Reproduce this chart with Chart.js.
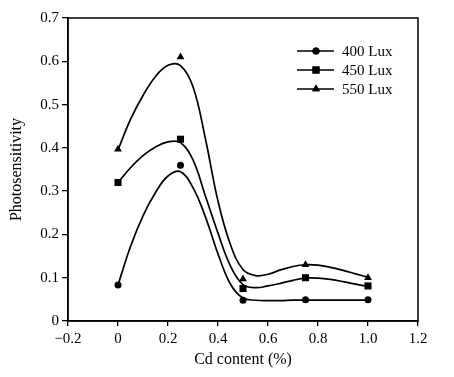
<!DOCTYPE html>
<html>
<head>
<meta charset="utf-8">
<script src="https://cdn.jsdelivr.net/npm/chart.js@4"></script>
<style>
  body { margin: 0; background: #fff; }
  canvas { display: block; }
</style>
</head>
<body>
<canvas id="chart" width="454" height="377"></canvas>
<script>
// Measured points
const cdContent = [0, 0.25, 0.5, 0.75, 1.0];
const ps400 = [0.083, 0.36, 0.048, 0.049, 0.049];
const ps450 = [0.32, 0.42, 0.075, 0.10, 0.081];
const ps550 = [0.397, 0.61, 0.097, 0.13, 0.10];

// Smoothed curves
const curveX = [0, 0.05, 0.1, 0.15, 0.2, 0.25, 0.3, 0.35, 0.4, 0.45, 0.5,
    0.55, 0.6, 0.65, 0.7, 0.75, 0.8, 0.85, 0.9, 0.95, 1.0];
const fit400 = [0.083, 0.172, 0.243, 0.297, 0.335, 0.345, 0.308, 0.24, 0.155, 0.085, 0.053,
    0.048, 0.047, 0.047, 0.048, 0.048, 0.048, 0.048, 0.048, 0.048, 0.048];
const fit450 = [0.32, 0.354, 0.382, 0.402, 0.414, 0.412, 0.372, 0.288, 0.203, 0.127, 0.084,
    0.077, 0.081, 0.087, 0.094, 0.099, 0.099, 0.096, 0.091, 0.085, 0.080];
const fit550 = [0.395, 0.466, 0.521, 0.565, 0.591, 0.590, 0.541, 0.42, 0.277, 0.176, 0.119,
    0.105, 0.108, 0.118, 0.126, 0.130, 0.129, 0.124, 0.117, 0.109, 0.101];

const seriesLabels = ["400 Lux", "450 Lux", "550 Lux"];
const xTickLabels = ["\u22120.2", "0", "0.2", "0.4", "0.6", "0.8", "1.0", "1.2"];
const yTickLabels = ["0", "0.1", "0.2", "0.3", "0.4", "0.5", "0.6", "0.7"];

const FONT = "'Liberation Serif', 'Times New Roman', serif";
const styles = [
    { pointStyle: "circle", radius: 3.5 },
    { pointStyle: "rect", radius: 5 },
    { pointStyle: "triangle", radius: 4.5 },
];

const toXY = (xs, ys) => xs.map((x, i) => ({ x: x, y: ys[i] }));

const curves = [fit400, fit450, fit550].map((ys) => ({
    data: toXY(curveX, ys),
    borderColor: "#000",
    borderWidth: 1.7,
    pointRadius: 0,
    tension: 0.4,
    fill: false,
}));

const markers = [ps400, ps450, ps550].map((ys, i) => ({
    label: seriesLabels[i],
    data: toXY(cdContent, ys),
    showLine: false,
    pointStyle: styles[i].pointStyle,
    pointRadius: styles[i].radius,
    pointBackgroundColor: "#000",
    pointBorderColor: "#000",
    pointBorderWidth: 0,
}));

// box around the plot and the in-plot legend
const framePlugin = {
    id: "frame",
    afterDraw(chart) {
        const ctx = chart.ctx;
        const a = chart.chartArea;
        ctx.save();
        ctx.strokeStyle = "#000";
        ctx.lineWidth = 1.5;
        ctx.strokeRect(a.left, a.top, a.right - a.left, a.bottom - a.top);

        ctx.font = "15px " + FONT;
        ctx.textBaseline = "middle";
        ctx.fillStyle = "#000";
        seriesLabels.forEach((label, i) => {
            const y = 51 + i * 19;
            ctx.lineWidth = 1.5;
            ctx.beginPath();
            ctx.moveTo(297, y);
            ctx.lineTo(334, y);
            ctx.stroke();
            Chart.helpers.drawPoint(ctx, {
                pointStyle: styles[i].pointStyle,
                radius: styles[i].radius,
                borderWidth: 0,
            }, 316, y);
            ctx.fill();
            ctx.fillText(label, 342, y + 1);
        });
        ctx.restore();
    },
};

const ctx = document.getElementById("chart").getContext("2d");
new Chart(ctx, {
    type: "line",
    data: { datasets: [...curves, ...markers] },
    options: {
        responsive: false,
        animation: false,
        layout: { padding: { top: 18, right: 36, left: 0, bottom: 0 } },
        plugins: {
            legend: { display: false },
            tooltip: { enabled: false },
        },
        scales: {
            x: {
                type: "linear",
                min: -0.2,
                max: 1.2,
                afterFit: (s) => { s.height = 56; },
                ticks: {
                    stepSize: 0.2,
                    color: "#000",
                    padding: 4,
                    maxRotation: 0,
                    font: { family: FONT, size: 15 },
                    callback: (v, i) => xTickLabels[i],
                },
                grid: { drawOnChartArea: false, color: "#000", tickLength: 5, lineWidth: 1.3 },
                border: { color: "#000", width: 1.5 },
                title: {
                    display: true,
                    text: "Cd content (%)",
                    color: "#000",
                    padding: { top: 8, bottom: 8 },
                    font: { family: FONT, size: 16 },
                },
            },
            y: {
                min: 0,
                max: 0.7,
                afterFit: (s) => { s.width = 68; },
                ticks: {
                    stepSize: 0.1,
                    color: "#000",
                    padding: 3,
                    font: { family: FONT, size: 15 },
                    callback: (v, i) => yTickLabels[i],
                },
                grid: { drawOnChartArea: false, color: "#000", tickLength: 6, lineWidth: 1.3 },
                border: { color: "#000", width: 1.5 },
                title: {
                    display: true,
                    text: "Photosensitivity",
                    color: "#000",
                    padding: { top: 7, bottom: 7 },
                    font: { family: FONT, size: 16 },
                },
            },
        },
    },
    plugins: [framePlugin],
});
</script>
</body>
</html>
